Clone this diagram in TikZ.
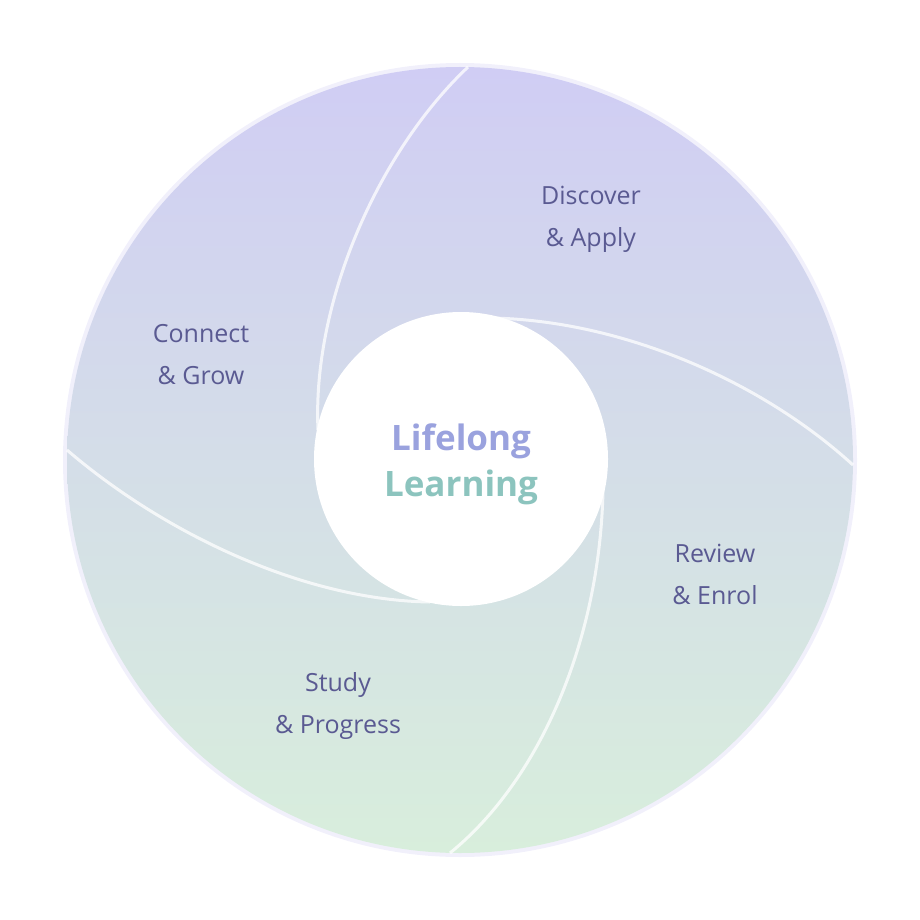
\documentclass[tikz,border=0pt]{standalone}
\usepackage{fontspec}
\setmainfont{Open Sans}
\definecolor{lab}{HTML}{5A5A92}
\definecolor{topc}{HTML}{D0CDF4}
\definecolor{botc}{HTML}{D8EEDC}
\definecolor{lil}{HTML}{9AA2DE}
\definecolor{tea}{HTML}{8CC4BE}
\tikzset{seam/.style={draw=white,opacity=0.75,line width=3pt},
lbl/.style={text=lab,font=\fontsize{25}{42}\selectfont,align=center}}
\begin{document}
\begin{tikzpicture}[x=1pt,y=-1pt]
\useasboundingbox (0,0) rectangle (920,920);
\fill[topc!60!white,opacity=0.5] (460,460) circle (397);
\shade[top color=topc,bottom color=botc] (460,460) circle (393);
\draw[seam] (318,430) .. controls (312,300) and (380,150) .. (468,67);
\draw[seam] (490,318) .. controls (620,320) and (760,380) .. (853,465);
\draw[seam] (603,490) .. controls (600,640) and (540,780) .. (450,853);
\draw[seam] (430,602) .. controls (300,600) and (160,530) .. (67,450);
\node[circle,fill=white,minimum size=294pt,inner sep=0] (c) at (461,459) {};
\node[font=\fontsize{35}{46}\selectfont\bfseries,align=center] (t) at (461,464) {\textcolor{lil}{Lifelong}\\\textcolor{tea}{Learning}};
\node[lbl] (d) at (591,219) {Discover\\\& Apply};
\node[lbl] (g) at (201,355) {Connect\\\& Grow};
\node[lbl] (r) at (715,574) {Review\\\& Enrol};
\node[lbl] (s) at (338,706) {Study\\\& Progress};
\end{tikzpicture}
\end{document}
